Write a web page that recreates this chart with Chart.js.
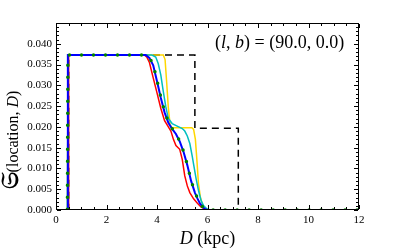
<!DOCTYPE html>
<html>
<head>
<meta charset="utf-8">
<script src="https://cdn.jsdelivr.net/npm/chart.js@4.4.1/dist/chart.umd.min.js"></script>
<style>
  html, body { margin: 0; padding: 0; background: #fff; }
  #wrap { width: 398px; height: 248px; }
</style>
</head>
<body>
<div id="wrap"><canvas id="chart" width="398" height="248"></canvas></div>
<script>
// distance grid per curve (kpc) and the matching probability values
const blackX  = [0, 0.5, 0.5, 5.5, 5.5, 7.22, 7.22, 12];
const blackY  = [0, 0, 0.0373, 0.0373, 0.0197, 0.0197, 0, 0];

const yellowX = [0, 0.45, 0.48, 4.25, 4.32, 4.38, 4.45, 4.52, 4.6, 5.38, 5.45, 5.52, 5.58, 5.64, 5.72, 5.82, 5.95, 6.05, 12];
const yellowY = [0, 0, 0.0373, 0.0373, 0.0362, 0.0310, 0.0245, 0.0205, 0.0198, 0.0198, 0.0194, 0.0170, 0.0120, 0.0065, 0.0030, 0.0010, 0.0002, 0, 0];

const cyanX   = [0, 0.45, 0.48, 3.8, 3.95, 4.05, 4.15, 4.25, 4.35, 4.45, 4.6, 4.8, 5.0, 5.1, 5.2, 5.3, 5.4, 5.45, 5.55, 5.65, 5.75, 5.85, 5.97, 6.1, 12];
const cyanY   = [0, 0, 0.0373, 0.0373, 0.0368, 0.0352, 0.0325, 0.0285, 0.0248, 0.0220, 0.0208, 0.0202, 0.0196, 0.0190, 0.0178, 0.0160, 0.0128, 0.0110, 0.0075, 0.0045, 0.0022, 0.0010, 0.0003, 0, 0];

const redX    = [0, 0.48, 0.5, 3.5, 3.6, 3.7, 3.85, 4.0, 4.15, 4.3, 4.45, 4.55, 4.65, 4.75, 4.9, 5.0, 5.1, 5.2, 5.3, 5.45, 5.6, 5.75, 5.9, 6.0, 12];
const redY    = [0, 0, 0.0373, 0.0373, 0.0368, 0.0355, 0.0318, 0.0282, 0.0245, 0.0215, 0.0200, 0.0190, 0.0170, 0.0155, 0.0146, 0.0122, 0.0082, 0.0058, 0.0042, 0.0027, 0.0016, 0.0007, 0.0002, 0, 0];

const blueX   = [0, 0.44, 0.47, 3.55, 3.7, 3.85, 4.0, 4.15, 4.3, 4.45, 4.6, 4.75, 4.9, 5.05, 5.2, 5.35, 5.5, 5.6, 5.7, 5.8, 5.9, 6.0, 12];
const blueY   = [0, 0, 0.0373, 0.0373, 0.0366, 0.0348, 0.0310, 0.0270, 0.0235, 0.0210, 0.0195, 0.0183, 0.0165, 0.0140, 0.0108, 0.0070, 0.0042, 0.0028, 0.0016, 0.0008, 0.0002, 0, 0];

const greenX  = [0, 0.45, 0.47, 3.55, 3.7, 3.85, 4.0, 4.15, 4.3, 4.45, 4.6, 4.75, 4.9, 5.05, 5.2, 5.35, 5.5, 5.6, 5.7, 5.8, 5.9, 6.02, 12];
const greenY  = [0, 0, 0.0373, 0.0373, 0.0367, 0.0350, 0.0312, 0.0272, 0.0237, 0.0211, 0.0196, 0.0183, 0.0166, 0.0141, 0.0109, 0.0071, 0.0043, 0.0029, 0.0017, 0.0008, 0.0002, 0, 0];

const xTicks = [0, 2, 4, 6, 8, 10, 12];
const yTicks = [0, 0.005, 0.01, 0.015, 0.02, 0.025, 0.03, 0.035, 0.04];

const SERIF = "'Liberation Serif', 'DejaVu Serif', serif";

function pts(xs, ys) {
  return xs.map((x, i) => ({ x: x, y: ys[i] }));
}

// frame + inward ticks on all four sides, plus the text
const decor = {
  id: 'decor',
  afterDraw(chart) {
    const ctx = chart.ctx;
    const a = chart.chartArea;
    const xs = chart.scales.x, ys = chart.scales.y;
    const L = Math.round(a.left), T = Math.round(a.top);
    const R = Math.round(a.right) - 1, B = Math.round(a.bottom) - 1;
    ctx.save();
    ctx.fillStyle = '#000';
    // frame as 1px filled bars
    ctx.fillRect(L, T, R - L + 1, 1);
    ctx.fillRect(L, B, R - L + 1, 1);
    ctx.fillRect(L, T, 1, B - T + 1);
    ctx.fillRect(R, T, 1, B - T + 1);

    for (let i = 0; i <= 24; i++) {
      const v = i * 0.5;
      const px = Math.round(xs.getPixelForValue(v));
      const len = i % 4 === 0 ? 4 : 2;
      ctx.fillRect(px, B - len, 1, len);
      ctx.fillRect(px, T + 1, 1, len);
    }
    for (let i = 0; i <= 45; i++) {
      const v = i * 0.001;
      const py = Math.round(ys.getPixelForValue(v));
      const len = i % 5 === 0 ? 4 : 2;
      ctx.fillRect(L + 1, py, len, 1);
      ctx.fillRect(R - len, py, len, 1);
    }

    // annotation (l,b) = (90.0, 0.0)
    ctx.textBaseline = 'alphabetic';
    ctx.textAlign = 'left';
    let x = 215;
    const yb = 48;
    const parts = [['(', ''], ['l', 'italic '], [', ', ''], ['b', 'italic '], [') = (90.0, 0.0)', '']];
    parts.forEach(p => {
      ctx.font = p[1] + '18px ' + SERIF;
      ctx.fillText(p[0], x, yb);
      x += ctx.measureText(p[0]).width;
    });

    // x axis title
    ctx.font = 'italic 18px ' + SERIF;
    const wD = ctx.measureText('D').width;
    ctx.font = '18px ' + SERIF;
    const wR = ctx.measureText(' (kpc)').width;
    let sx = (a.left + a.right) / 2 - (wD + wR) / 2;
    ctx.font = 'italic 18px ' + SERIF;
    ctx.fillText('D', sx, 244);
    ctx.font = '18px ' + SERIF;
    ctx.fillText(' (kpc)', sx + wD, 244);

    // y axis title, rotated
    ctx.translate(18, 140);
    ctx.rotate(-Math.PI / 2);
    const yparts = [['\u{1D516}', 'bold 24px '], ['(location, ', '16px '], ['D', 'italic 16px '], [')', '16px ']];
    let total = 0;
    yparts.forEach(p => { ctx.font = p[1] + SERIF; total += ctx.measureText(p[0]).width; });
    let tx = -total / 2;
    yparts.forEach(p => {
      ctx.font = p[1] + SERIF;
      ctx.fillText(p[0], tx, 0);
      tx += ctx.measureText(p[0]).width;
    });
    ctx.restore();
  }
};

new Chart(document.getElementById('chart').getContext('2d'), {
  type: 'line',
  data: {
    datasets: [
      { data: pts(greenX, greenY), borderColor: '#008000', borderWidth: 3.5, borderDash: [0, 12], borderCapStyle: 'round' },
      { data: pts(blueX, blueY), borderColor: '#0000ff', borderWidth: 2 },
      { data: pts(redX, redY), borderColor: '#ff0000', borderWidth: 1.5 },
      { data: pts(cyanX, cyanY), borderColor: '#00bfbf', borderWidth: 1.5 },
      { data: pts(yellowX, yellowY), borderColor: '#ffd700', borderWidth: 1.5 },
      { data: pts(blackX, blackY), borderColor: '#000000', borderWidth: 1.5, borderDash: [7, 5] }
    ]
  },
  options: {
    responsive: false,
    animation: false,
    layout: { padding: { top: 23, right: 39, left: 0, bottom: 0 } },
    elements: { point: { radius: 0 }, line: { tension: 0, fill: false } },
    plugins: { legend: { display: false }, tooltip: { enabled: false } },
    scales: {
      x: {
        type: 'linear', min: 0, max: 12,
        grid: { display: false, drawTicks: false }, border: { display: false },
        afterBuildTicks(s) { s.ticks = xTicks.map(v => ({ value: v })); },
        afterFit(s) { s.height = 38; },
        ticks: { color: '#000', padding: 4, maxRotation: 0, font: { family: SERIF, size: 11 }, callback: v => String(v) }
      },
      y: {
        type: 'linear', min: 0, max: 0.045,
        grid: { display: false, drawTicks: false }, border: { display: false },
        afterBuildTicks(s) { s.ticks = yTicks.map(v => ({ value: v })); },
        afterFit(s) { s.width = 56; },
        ticks: { color: '#000', padding: 4, font: { family: SERIF, size: 11 }, callback: v => v.toFixed(3) }
      }
    }
  },
  plugins: [decor]
});
</script>
</body>
</html>
